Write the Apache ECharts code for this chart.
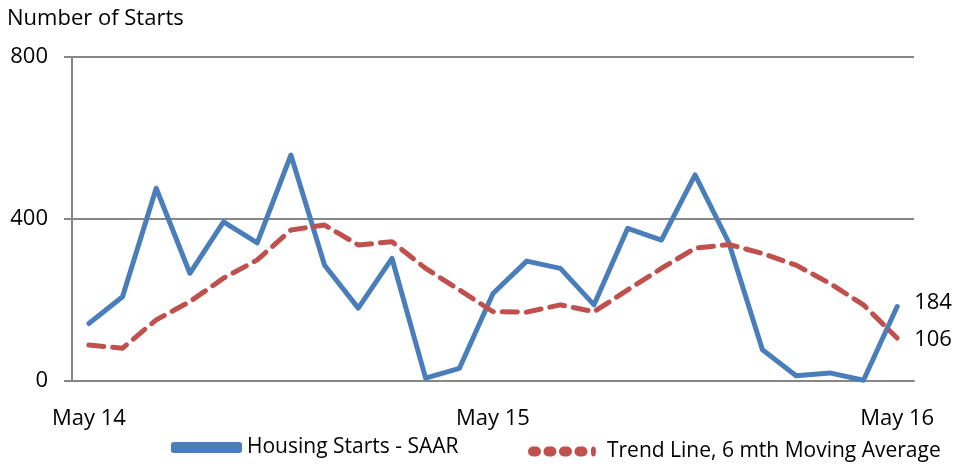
<!DOCTYPE html>
<html>
<head>
<meta charset="utf-8">
<script src="https://cdn.jsdelivr.net/npm/echarts@6/dist/echarts.min.js"></script>
<style>
html,body{margin:0;padding:0;background:#fff;}
#chart{width:958px;height:472px;}
</style>
</head>
<body>
<div id="chart"></div>
<script>
const categories = ["May 14","Jun 14","Jul 14","Aug 14","Sep 14","Oct 14","Nov 14","Dec 14","Jan 15","Feb 15","Mar 15","Apr 15","May 15","Jun 15","Jul 15","Aug 15","Sep 15","Oct 15","Nov 15","Dec 15","Jan 16","Feb 16","Mar 16","Apr 16","May 16"];
const housingStarts = [142,208,476,266,393,341,558,286,180,303,7,31,216,296,278,188,377,348,509,342,77,13,20,2,184];
const trendLine = [89,81,151,196,254,299,373,385,336,344,278,225,171,170,188,171,225,278,328,337,315,286,241,188,106];
const yTicks = [0,400,800];
const shownLabels = ["May 14","May 15","May 16"];

const FONT = "Open Sans";
const GRAY = "#868686";
const BLUE = '#4a7ebb';
const RED = '#c0504d';
const chart = echarts.init(document.getElementById('chart'), null, {renderer:'canvas'});

function pill(x){ return 'M'+(x+5)+',0h3a5,5 0 0 1 0,10h-3a5,5 0 0 1 0,-10z'; }
const dots = 'path://' + pill(0) + pill(15.5) + pill(31) + pill(46.5) + 'M65.5,0a2.5,5 0 0 1 0,10a2.5,5 0 0 1 0,-10zM71,10h0.01v0.01h-0.01z';

chart.setOption({
  animation:false,
  textStyle:{fontFamily:FONT},
  title:{text:"Number of Starts", left:2, top:3, textStyle:{fontFamily:FONT, fontSize:22, fontWeight:'normal', color:'#000'}},
  grid:{left:72, right:44, top:57, bottom:91, containLabel:false},
  legend:[
    {
      left:166, top:432, itemWidth:71, itemHeight:11,
      textStyle:{fontFamily:FONT, fontSize:21, color:'#000', padding:[20,0,0,0]},
      data:[{name:"Housing Starts - SAAR", icon:'roundRect', itemStyle:{color:BLUE}}]
    },
    {
      left:523, top:436, itemWidth:71, itemHeight:10,
      textStyle:{fontFamily:FONT, fontSize:21, color:'#000', padding:[18,0,0,3]},
      data:[{name:"Trend Line, 6 mth Moving Average", icon:dots, itemStyle:{color:RED}}]
    }
  ],
  xAxis:{
    type:'category', data:categories, boundaryGap:true,
    axisLine:{show:true, lineStyle:{color:GRAY, width:2}},
    axisTick:{show:false},
    axisLabel:{
      interval:0, margin:27,
      formatter:(v)=> shownLabels.includes(v) ? v : '',
      fontFamily:FONT, fontSize:22, color:'#000'
    },
    splitLine:{show:false}
  },
  yAxis:{
    type:'value', min:0, max:800, interval:400,
    axisLine:{show:true, lineStyle:{color:GRAY, width:2}},
    axisTick:{show:true, length:8, lineStyle:{color:GRAY, width:2}},
    axisLabel:{fontFamily:FONT, fontSize:22, color:'#000', margin:24,
      formatter:(v)=> yTicks.includes(v) ? String(v) : ''},
    splitLine:{show:true, lineStyle:{color:GRAY, width:2}}
  },
  series:[
    {
      name:"Housing Starts - SAAR", type:'line', data:housingStarts,
      symbol:'none', z:2,
      lineStyle:{color:BLUE, width:5, cap:'round', join:'round'},
      itemStyle:{color:BLUE},
      endLabel:{show:true, distance:17, offset:[0,-4], fontFamily:FONT, fontSize:22, color:'#000', formatter:'{c}'}
    },
    {
      name:"Trend Line, 6 mth Moving Average", type:'line', data:trendLine,
      symbol:'none', z:3,
      lineStyle:{color:RED, width:5, type:[15,9], cap:'round', join:'round'},
      itemStyle:{color:RED},
      endLabel:{show:true, distance:17, offset:[0,2], fontFamily:FONT, fontSize:22, color:'#000', formatter:'{c}'}
    }
  ]
});
</script>
</body>
</html>
